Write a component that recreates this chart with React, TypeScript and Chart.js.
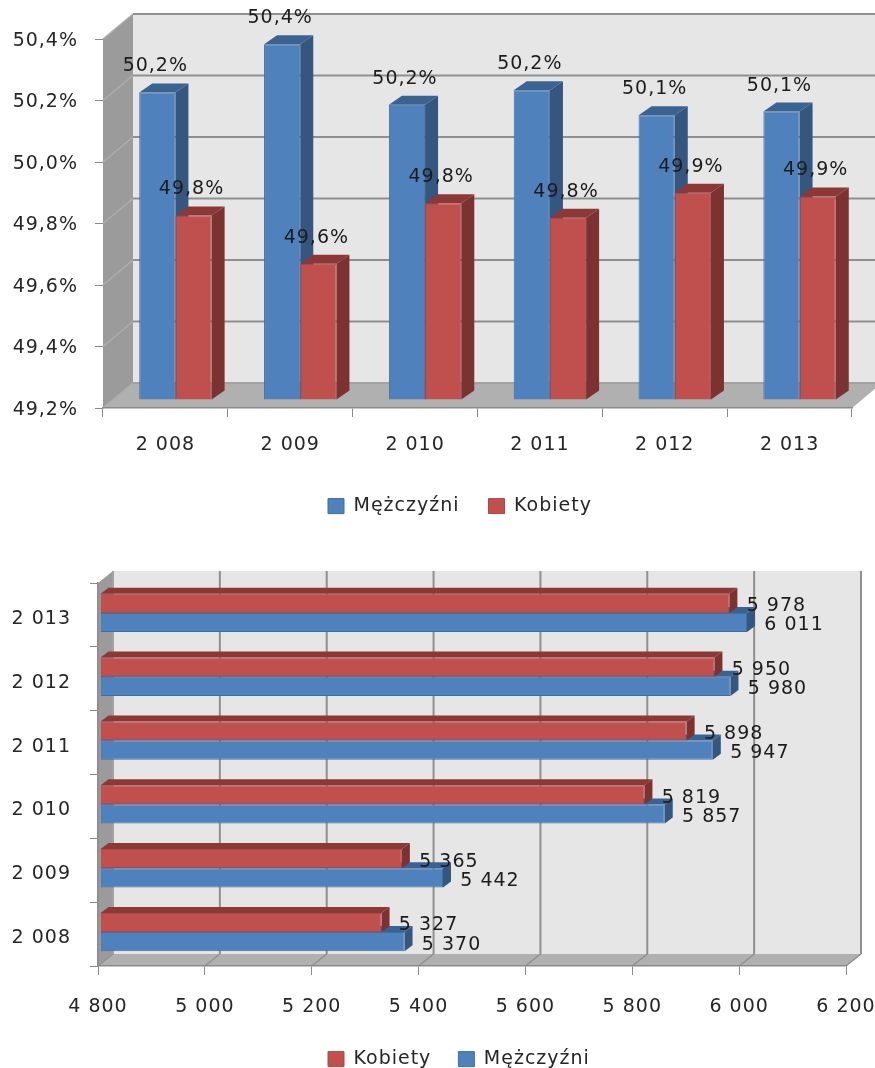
import React, { useEffect, useRef } from "react";
import { Chart, registerables } from "chart.js";

Chart.register(...registerables);

const years = ["2 008", "2 009", "2 010", "2 011", "2 012", "2 013"];
const menPct = [50.2, 50.357, 50.16, 50.207, 50.126, 50.138];
const womenPct = [49.8, 49.643, 49.84, 49.793, 49.874, 49.862];
const menCount = [5370, 5442, 5857, 5947, 5980, 6011];
const womenCount = [5327, 5365, 5819, 5898, 5950, 5978];
const menLabel = "Mężczyźni";
const womenLabel = "Kobiety";

const FONT = "'DejaVu Sans'";
const FONT_SIZE = 19;
const TEXT = "#262626";
const BLUE = { front: "#4f81bd", edge: "#41709f", side: "#34567f", top: "#3b6391" };
const RED = { front: "#c0504d", edge: "#a94a47", side: "#7c3230", top: "#8c3836" };

const fmtPct = (v: number) => v.toFixed(1).replace(".", ",") + "%";
const fmtNum = (v: number) => {
  const s = String(Math.round(v));
  return s.slice(0, s.length - 3) + " " + s.slice(s.length - 3);
};

type Cfg = {
  wall: [number, number];
  bar: [number, number];
  depth: [number, number];
  legend: [number, number];
  drawOrder: number[];
  slant: string;
  label: (b: any) => [number, number];
  fmt: (v: number) => string;
};

function scene(cfg: Cfg) {
  return {
    id: "scene",
    beforeUpdate(chart: any) {
      chart.ctx.letterSpacing = "1px";
    },
    afterLayout(chart: any) {
      const l = chart.legend;
      l.left = cfg.legend[0] - l.options.labels.padding;
      l.right = 875;
      l.top = cfg.legend[1];
      l.bottom = l.top + 90;
    },
    beforeDraw(chart: any) {
      const { ctx, chartArea: a, scales } = chart;
      ctx.letterSpacing = "1px";
      const [dx, dy] = cfg.wall;
      const L = a.left, R = a.right, T = a.top, B = a.bottom;
      ctx.save();
      ctx.fillStyle = "#e6e6e6";
      ctx.fillRect(L + dx, T + dy, R - L, B - T);
      ctx.fillStyle = "#9b9b9b";
      poly(ctx, [[L, T], [L + dx, T + dy], [L + dx, B + dy], [L, B]]);
      ctx.fillStyle = "#b0b0b0";
      poly(ctx, [[L, B], [L + dx, B + dy], [R + dx, B + dy], [R, B]]);
      const horizontalChart = chart.options.indexAxis === "y";
      const val = horizontalChart ? scales.x : scales.y;
      val.ticks.forEach((t: any, i: number) => {
        const p = val.getPixelForTick(i);
        ctx.lineWidth = 1.5;
        ctx.strokeStyle = cfg.slant;
        ctx.beginPath();
        if (horizontalChart) {
          ctx.moveTo(p, B);
          ctx.lineTo(p + dx, B + dy);
        } else {
          ctx.moveTo(L, p);
          ctx.lineTo(L + dx, p + dy);
        }
        ctx.stroke();
        ctx.lineWidth = 2;
        ctx.strokeStyle = "#8f8f8f";
        ctx.beginPath();
        if (horizontalChart) {
          ctx.moveTo(p + dx, B + dy);
          ctx.lineTo(p + dx, T + dy);
        } else {
          ctx.moveTo(L + dx, p + dy);
          ctx.lineTo(R + dx, p + dy);
        }
        ctx.stroke();
      });
      ctx.strokeStyle = "#a8a8a8";
      ctx.lineWidth = 1.5;
      ctx.beginPath();
      if (horizontalChart) {
        ctx.moveTo(L + dx, T + dy);
        ctx.lineTo(L + dx, B + dy);
      } else {
        ctx.moveTo(L + dx, B + dy);
        ctx.lineTo(R + dx, B + dy);
      }
      ctx.stroke();
      ctx.restore();
    },
    beforeDatasetDraw() {
      return false;
    },
    afterDatasetsDraw(chart: any) {
      const { ctx } = chart;
      const [ox, oy] = cfg.bar;
      const [dx, dy] = cfg.depth;
      cfg.drawOrder.forEach((i) => {
        const meta = chart.getDatasetMeta(i);
        const c = chart.data.datasets[i].label === menLabel ? BLUE : RED;
        ctx.save();
        ctx.translate(ox, oy);
        meta.data.forEach((el: any) => {
          const b = box(el);
          ctx.fillStyle = c.side;
          poly(ctx, [[b.r, b.t], [b.r + dx, b.t + dy], [b.r + dx, b.b + dy], [b.r, b.b]]);
          ctx.fillStyle = c.top;
          poly(ctx, [[b.l, b.t], [b.l + dx, b.t + dy], [b.r + dx, b.t + dy], [b.r, b.t]]);
        });
        meta.controller.draw();
        ctx.restore();
      });
      ctx.save();
      ctx.font = `${FONT_SIZE}px ${FONT}`;
      ctx.fillStyle = "#1c1c1c";
      ctx.textAlign = "center";
      ctx.textBaseline = "middle";
      chart.data.datasets.forEach((ds: any, i: number) => {
        chart.getDatasetMeta(i).data.forEach((el: any, k: number) => {
          const [x, y] = cfg.label(box(el));
          ctx.fillText(cfg.fmt(ds.data[k]), x, y);
        });
      });
      ctx.restore();
    },
  };
}

function box(el: any) {
  const p = el.getProps(["x", "y", "base", "width", "height"], true);
  if (el.horizontal) {
    return { l: p.base, r: p.x, t: p.y - p.height / 2, b: p.y + p.height / 2 };
  }
  return { l: p.x - p.width / 2, r: p.x + p.width / 2, t: p.y, b: p.base };
}

function poly(ctx: CanvasRenderingContext2D, pts: number[][]) {
  ctx.beginPath();
  pts.forEach((p, i) => (i ? ctx.lineTo(p[0], p[1]) : ctx.moveTo(p[0], p[1])));
  ctx.closePath();
  ctx.fill();
}

const tickFont = { family: FONT, size: FONT_SIZE };
const noPad = (s: any) => {
  s.paddingLeft = 0;
  s.paddingRight = 0;
  s.paddingTop = 0;
  s.paddingBottom = 0;
};

function makeColumn(canvas: HTMLCanvasElement) {
  return new Chart(canvas, {
    type: "bar",
    data: {
      labels: years,
      datasets: [
        { label: menLabel, data: menPct, base: 49.2, backgroundColor: BLUE.front, borderColor: BLUE.edge, borderWidth: 1 },
        { label: womenLabel, data: womenPct, base: 49.2, backgroundColor: RED.front, borderColor: RED.edge, borderWidth: 1 },
      ],
    },
    options: {
      responsive: false,
      animation: false,
      layout: { autoPadding: false, padding: { left: 0, right: 23, top: 39, bottom: 0 } },
      datasets: { bar: { categoryPercentage: 0.58, barPercentage: 1 } },
      plugins: {
        title: { display: false },
        tooltip: { enabled: false },
        legend: {
          position: "bottom",
          align: "start",
          maxHeight: 40,
          labels: { boxWidth: 16, boxHeight: 15, padding: 29, color: TEXT, font: tickFont },
        },
      },
      scales: {
        x: {
          afterFit: (s: any) => { s.height = 87; noPad(s); },
          grid: { drawOnChartArea: false, drawTicks: true, tickLength: 9, color: "#8a8a8a", offset: true },
          border: { color: "#8a8a8a", width: 1.5 },
          ticks: { color: TEXT, font: tickFont, padding: 17, maxRotation: 0, autoSkip: false },
        },
        y: {
          min: 49.2,
          max: 50.4,
          afterFit: (s: any) => { s.width = 103; noPad(s); },
          grid: { drawOnChartArea: false, drawTicks: true, tickLength: 8, color: "#8a8a8a" },
          border: { display: false },
          ticks: { stepSize: 0.2, color: TEXT, font: tickFont, padding: 17, labelOffset: 2, callback: (v: any) => fmtPct(Number(v)) },
        },
      },
    },
    plugins: [
      scene({
        wall: [30, -25],
        bar: [10, -8],
        depth: [13, -9],
        legend: [328, 467.6],
        drawOrder: [0, 1],
        slant: "#adadad",
        label: (b) => [(b.l + b.r) / 2 + 8, b.t - 34],
        fmt: fmtPct,
      }),
    ],
  } as any);
}

function makeBar(canvas: HTMLCanvasElement) {
  return new Chart(canvas, {
    type: "bar",
    data: {
      labels: years,
      datasets: [
        { label: womenLabel, data: womenCount, base: 4800, backgroundColor: RED.front, borderColor: RED.edge, borderWidth: 1 },
        { label: menLabel, data: menCount, base: 4800, backgroundColor: BLUE.front, borderColor: BLUE.edge, borderWidth: 1 },
      ],
    },
    options: {
      indexAxis: "y",
      responsive: false,
      animation: false,
      layout: { autoPadding: false, padding: { left: 0, right: 29, top: 48, bottom: 0 } },
      datasets: { bar: { categoryPercentage: 0.6, barPercentage: 1 } },
      plugins: {
        title: { display: false },
        tooltip: { enabled: false },
        legend: {
          position: "bottom",
          align: "start",
          maxHeight: 40,
          labels: { boxWidth: 16, boxHeight: 15, padding: 27, color: TEXT, font: tickFont },
        },
      },
      scales: {
        x: {
          min: 4800,
          max: 6200,
          afterFit: (s: any) => { s.height = 62; noPad(s); },
          grid: { drawOnChartArea: false, drawTicks: true, tickLength: 9, color: "#8a8a8a" },
          border: { color: "#8a8a8a", width: 1.5 },
          ticks: { stepSize: 200, color: TEXT, font: tickFont, padding: 21, maxRotation: 0, callback: (v: any) => fmtNum(Number(v)) },
        },
        y: {
          reverse: true,
          afterFit: (s: any) => { s.width = 98; noPad(s); },
          grid: { drawOnChartArea: false, drawTicks: true, tickLength: 8, color: "#8a8a8a", offset: true },
          border: { color: "#8a8a8a", width: 1.5 },
          ticks: { color: TEXT, font: tickFont, padding: 19, labelOffset: 4, autoSkip: false },
        },
      },
    },
    plugins: [
      scene({
        wall: [15, -12],
        bar: [2, -2],
        depth: [8, -6],
        legend: [328, 487.6],
        drawOrder: [1, 0],
        slant: "#909090",
        label: (b) => [b.r + 49, (b.t + b.b) / 2 + 1],
        fmt: fmtNum,
      }),
    ],
  } as any);
}

export default function App() {
  const top = useRef<HTMLCanvasElement>(null);
  const bottom = useRef<HTMLCanvasElement>(null);
  useEffect(() => {
    const a = makeColumn(top.current!);
    const b = makeBar(bottom.current!);
    return () => {
      a.destroy();
      b.destroy();
    };
  }, []);
  const style = (y: number, h: number): React.CSSProperties => ({
    position: "absolute",
    left: 0,
    top: y,
    width: 875,
    height: h,
    filter: "blur(0.45px)",
  });
  return (
    <div style={{ position: "absolute", left: 0, top: 0, width: 875, height: 1068, overflow: "hidden", background: "#fff" }}>
      <canvas ref={top} width={875} height={535} style={style(0, 535)} />
      <canvas ref={bottom} width={875} height={533} style={style(535, 533)} />
    </div>
  );
}
